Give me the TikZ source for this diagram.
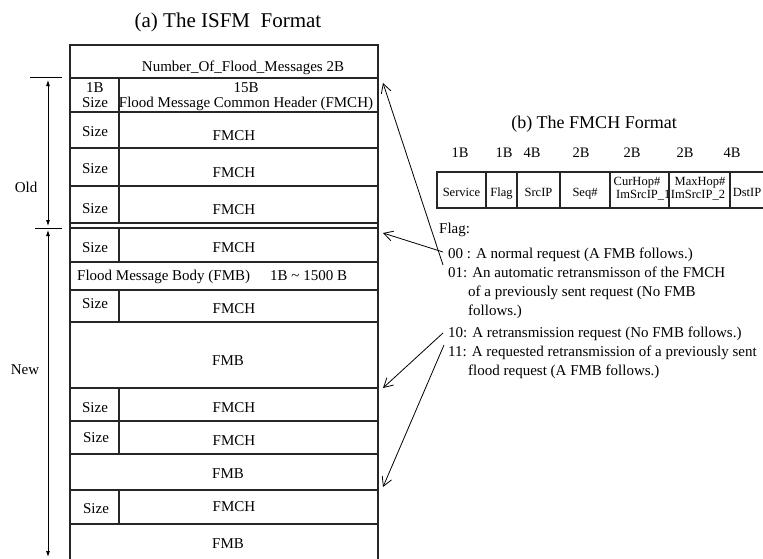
\documentclass[tikz,border=0pt]{standalone}
\usepackage{fontspec}
\setmainfont{Liberation Serif}
\usetikzlibrary{arrows.meta}
\newcommand{\fsz}[1]{\fontsize{#1}{#1}\selectfont}
\begin{document}
\begin{tikzpicture}[x=1pt,y=-1pt,
  box/.style={line width=1.2pt, draw=black!85, line cap=rect},
  lbl/.style={inner sep=0pt, anchor=base, font=\fsz{15}},
  lblw/.style={inner sep=0pt, anchor=base west, font=\fsz{15}},
  cell/.style={inner sep=0pt, anchor=base, font=\fsz{12.5}},
  byte/.style={inner sep=0pt, anchor=base, font=\fsz{14.5}},
  ptr/.style={line width=0.8pt, -{Straight Barb[length=9pt,width=10pt]}},
  extent/.style={line width=0.8pt, {Latex[length=6pt,width=4pt]}-{Latex[length=6pt,width=4pt]}},
]
\useasboundingbox (0,0) rectangle (763,558);
\fill[white] (0,0) rectangle (763,558);

% titles
\node[inner sep=0pt, anchor=base, font=\fsz{21}] (ta) at (228,27) {(a) The ISFM\ \ Format};
\node[inner sep=0pt, anchor=base, font=\fsz{18}] (tb) at (594,128) {(b) The FMCH Format};

% main ISFM box
\draw[box] (70,558) -- (70,45) -- (378,45) -- (378,558);
\foreach \yy in {78,112,148,186,223,228,262,290,322,388,421,454,490,524}
  \draw[box] (70,\yy) -- (378,\yy);
\foreach \ya/\yb in {78/112,112/148,148/186,186/223,228/262,290/322,388/421,421/454,492/524}
  \draw[box] (119,\ya) -- (119,\yb);

\node[lbl] (num) at (243,71) {Number\_Of\_Flood\_Messages 2B};
\node[lbl] (b1) at (95,92) {1B};
\node[lbl] (s1) at (95,107) {Size};
\node[lbl] (b15) at (246,92) {15B};
\node[lbl] (hdr) at (246,107) {Flood Message Common Header (FMCH)};

\node[lbl] (s2) at (95,136) {Size};   \node[lbl] (h2) at (234,140) {FMCH};
\node[lbl] (s3) at (95,173) {Size};   \node[lbl] (h3) at (234,177) {FMCH};
\node[lbl] (s4) at (95,213) {Size};   \node[lbl] (h4) at (234,214) {FMCH};
\node[lbl] (s5) at (95,252) {Size};   \node[lbl] (h5) at (234,252) {FMCH};
\node[lblw] (fmb1) at (77,280) {Flood Message Body (FMB)};
\node[lblw] (rng) at (270,280) {1B \textasciitilde{} 1500 B};
\node[lbl] (s6) at (95,308) {Size};   \node[lbl] (h6) at (234,313) {FMCH};
\node[lbl] (fmb2) at (228,365) {FMB};
\node[lbl] (s7) at (95,412) {Size};   \node[lbl] (h7) at (234,412) {FMCH};
\node[lbl] (s8) at (96,442) {Size};   \node[lbl] (h8) at (234,445) {FMCH};
\node[lbl] (fmb3) at (228,478) {FMB};
\node[lbl] (s9) at (96,513) {Size};   \node[lbl] (h9) at (234,511) {FMCH};
\node[lbl] (fmb4) at (228,548) {FMB};

% Old / New extents
\coordinate (t1a) at (30,77);  \coordinate (t1b) at (62,77);
\coordinate (t2a) at (35,228); \coordinate (t2b) at (62,228);
\draw[line width=0.8pt] (t1a) -- (t1b);
\draw[line width=0.8pt] (t2a) -- (t2b);
\coordinate (o1) at (48,80); \coordinate (o2) at (48,226);
\coordinate (n1) at (48,230); \coordinate (n2) at (48,557);
\draw[extent] (o1) -- (o2);
\draw[extent] (n1) -- (n2);
\node[lbl] (old) at (26,192) {Old};
\node[lbl] (new) at (25,374) {New};

% FMCH format table
\draw[box] (764,172) -- (437,172) -- (437,208) -- (764,208);
\foreach \xx in {486,517,560,610,669,730}
  \draw[box] (\xx,172) -- (\xx,208);
\node[byte] (y1) at (460,157) {1B};
\node[byte] (y2) at (504,157) {1B};
\node[byte] (y3) at (532,157) {4B};
\node[byte] (y4) at (581,157) {2B};
\node[byte] (y5) at (632,157) {2B};
\node[byte] (y6) at (685,157) {2B};
\node[byte] (y7) at (732,157) {4B};
\node[cell] (c1) at (461.5,196) {Service};
\node[cell] (c2) at (501.5,196) {Flag};
\node[cell] (c3) at (538.5,196) {SrcIP};
\node[cell] (c4) at (585,196) {Seq\#};
\begin{scope}
  \clip (610,172) rectangle (668,208);
  \node[cell] (c5a) at (637,185) {CurHop\#};
  \node[cell, anchor=base west] (c5b) at (616,198) {ImSrcIP\_1};
\end{scope}
\node[cell] (c6a) at (700,185) {MaxHop\#};
\node[cell] (c6b) at (698,198) {ImSrcIP\_2};
\node[cell] (c7) at (747,196) {DstIP};

% Flag legend
\node[lblw] (flag) at (439,233) {Flag:};
\node[lblw] (f00) at (448,258) {00 : A normal request (A FMB follows.)};
\node[lblw] (f01) at (448,277) {01: An automatic retransmisson of the FMCH};
\node[lblw] (f01b) at (468,296) {of a previously sent request (No FMB};
\node[lblw] (f01c) at (468,315) {follows.)};
\node[lblw] (f10) at (448,337) {10: A retransmission request (No FMB follows.)};
\node[lblw] (f11) at (448,356) {11: A requested retransmission of a previously sent};
\node[lblw] (f11b) at (468,375) {flood request (A FMB follows.)};

% pointers
\coordinate (p1s) at (443,265); \coordinate (p1e) at (383,83);
\coordinate (p2s) at (443,252); \coordinate (p2e) at (383,233);
\coordinate (p3s) at (443,333); \coordinate (p3e) at (383,388);
\coordinate (p4s) at (444,345); \coordinate (p4e) at (383,487);
\draw[ptr] (p1s) -- (p1e);
\draw[ptr] (p2s) -- (p2e);
\draw[ptr] (p3s) -- (p3e);
\draw[ptr] (p4s) -- (p4e);
\end{tikzpicture}
\end{document}
